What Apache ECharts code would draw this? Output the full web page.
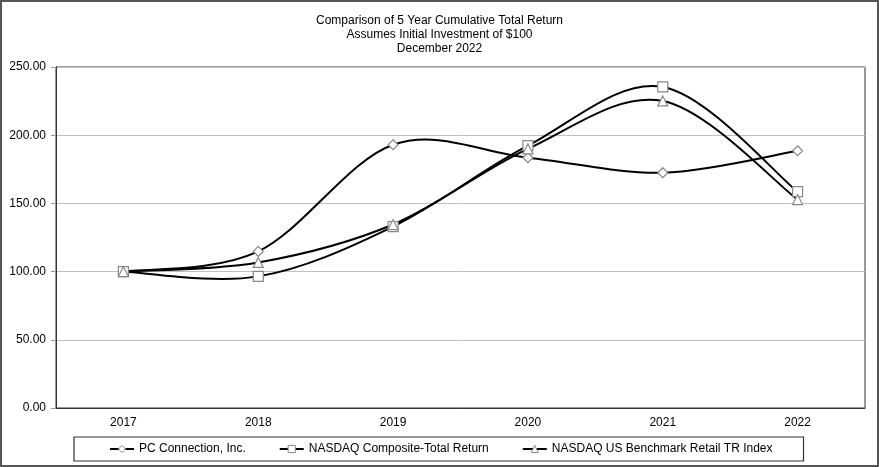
<!DOCTYPE html>
<html><head><meta charset="utf-8">
<script src="https://cdn.jsdelivr.net/npm/echarts@6/dist/echarts.min.js"></script>
<style>html,body{margin:0;padding:0;background:#fff}#c{width:879px;height:467px}</style>
</head><body><div id="c"></div>
<script>
const years = ['2017','2018','2019','2020','2021','2022'];
const pcConnection = [100.00, 114.8, 193.0, 183.5, 172.5, 188.6];
const nasdaqComposite = [100.00, 96.5, 133.0, 192.3, 235.4, 158.6];
const nasdaqRetail = [100.00, 106.7, 134.5, 190.0, 225.1, 152.8];
const seriesNames = ['PC Connection, Inc.', 'NASDAQ Composite-Total Return', 'NASDAQ US Benchmark Retail TR Index'];
const titleLines = ['Comparison of 5 Year Cumulative Total Return', 'Assumes Initial Investment of $100', 'December 2022'];

const font = 'Liberation Sans, Arial, sans-serif';
const chart = echarts.init(document.getElementById('c'), null, {renderer: 'canvas'});

// Excel-style (Catmull-Rom) smoothed curve, drawn segment by segment through the axes' coord()
function curve(arr) {
  const n = arr.length;
  return {
    type: 'custom', z: 1, silent: true,
    coordinateSystem: 'cartesian2d',
    encode: {x: 0, y: 1},
    data: arr.slice(0, n - 1).map((v, i) => [i, v]),
    renderItem: (params, api) => {
      const i = params.dataIndex;
      const P = k => api.coord([k, arr[k]]);
      const p0 = P(Math.max(i - 1, 0)), p1 = P(i), p2 = P(i + 1), p3 = P(Math.min(i + 2, n - 1));
      return {
        type: 'bezierCurve',
        shape: {
          x1: p1[0], y1: p1[1], x2: p2[0], y2: p2[1],
          cpx1: p1[0] + (p2[0] - p0[0]) / 6, cpy1: p1[1] + (p2[1] - p0[1]) / 6,
          cpx2: p2[0] - (p3[0] - p1[0]) / 6, cpy2: p2[1] - (p3[1] - p1[1]) / 6
        },
        style: {stroke: '#000', lineWidth: 2, fill: null}
      };
    },
    animation: false
  };
}
function markers(name, data, symbol, size) {
  return {
    name, type: 'line', data, symbol, symbolSize: size, z: 3,
    lineStyle: {color: '#000', width: 2, opacity: 0},
    itemStyle: {color: '#fff', borderColor: '#888', borderWidth: 1.2},
    emphasis: {disabled: true}, animation: false
  };
}
chart.setOption({
  animation: false,
  title: {
    text: titleLines.join('\n'), left: 'center', top: 9,
    textStyle: {fontFamily: font, fontSize: 12, fontWeight: 'normal', color: '#000', lineHeight: 14}
  },
  graphic: [{type: 'rect', shape: {x: 1, y: 1, width: 877, height: 465}, style: {fill: 'none', stroke: '#555', lineWidth: 2}, silent: true}],
  grid: {left: 56, right: 14, top: 67, bottom: 59, show: true, borderColor: '#333', borderWidth: 1},
  legend: {
    data: seriesNames, bottom: 6, left: 74,
    padding: [6, 31, 6, 35], itemGap: 33,
    borderColor: '#333', borderWidth: 1.2,
    itemWidth: 24, itemHeight: 9,
    lineStyle: {opacity: 1, color: '#000', width: 2},
    itemStyle: {color: '#fff', borderColor: '#888', borderWidth: 1},
    textStyle: {fontFamily: font, fontSize: 12, color: '#000'}
  },
  xAxis: {
    type: 'category', data: years, boundaryGap: true,
    axisLine: {lineStyle: {color: '#333'}},
    axisTick: {show: false},
    axisLabel: {fontFamily: font, fontSize: 12, color: '#000', margin: 9}
  },
  yAxis: {
    type: 'value', min: 0, max: 250, interval: 50,
    axisLine: {show: true, lineStyle: {color: '#333'}},
    axisTick: {show: true, length: 5, lineStyle: {color: '#999'}},
    axisLabel: {fontFamily: font, fontSize: 12, color: '#000', margin: 10, formatter: v => v.toFixed(2)},
    splitLine: {lineStyle: {color: '#c0c0c0', width: 1}}
  },
  series: [
    curve(pcConnection), curve(nasdaqComposite), curve(nasdaqRetail),
    markers(seriesNames[0], pcConnection, 'diamond', 10),
    markers(seriesNames[1], nasdaqComposite, 'rect', 10),
    markers(seriesNames[2], nasdaqRetail, 'triangle', 10)
  ]
});
</script></body></html>
